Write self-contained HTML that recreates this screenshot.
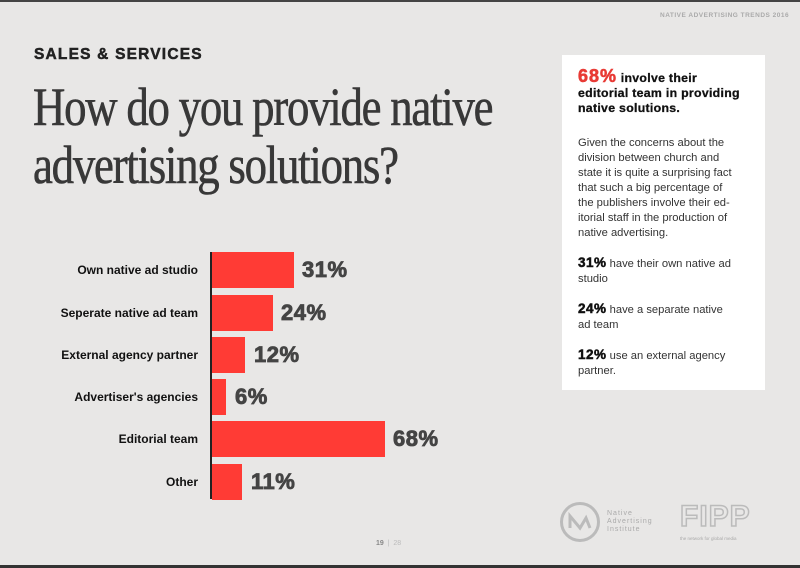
<!DOCTYPE html>
<html><head><meta charset="utf-8"><style>
*{margin:0;padding:0}
body{width:800px;height:568px;background:#e8e7e6;position:relative;overflow:hidden;font-family:"Liberation Sans",sans-serif;color:#333}
.a{position:absolute;white-space:nowrap}
.lab{position:absolute;right:602px;font-size:12px;font-weight:bold;color:#111;text-align:right}
.bar{position:absolute;left:212px;height:36px;background:#ff3b35}
.val{position:absolute;font-size:22px;font-weight:bold;color:#444;letter-spacing:0.5px;-webkit-text-stroke:0.8px #444}
.bx{position:absolute;left:578px;font-size:11.2px;color:#333;line-height:15px}
.bx b{font-size:13.5px;color:#111;letter-spacing:0.5px;-webkit-text-stroke:0.5px #111}
</style></head><body>
<div class="a" style="left:0;top:0;width:800px;height:2px;background:#444"></div>
<div class="a" style="left:0;top:565px;width:800px;height:3px;background:#333"></div>
<div class="a" style="left:660px;top:12px;font-size:6.5px;font-weight:bold;color:#aaa;letter-spacing:0.5px">NATIVE ADVERTISING TRENDS 2016</div>
<div class="a" style="left:34px;top:46px;font-size:15.5px;font-weight:bold;color:#222;letter-spacing:1.2px;-webkit-text-stroke:0.5px #222">SALES &amp; SERVICES</div>
<div class="a" style="left:33px;top:78px;font-family:'Liberation Serif',serif;font-size:54px;line-height:58px;color:#383838;letter-spacing:-1.5px;transform:scaleX(0.83);transform-origin:0 0;-webkit-text-stroke:0.6px #383838">How do you provide native<br>advertising solutions?</div>

<div class="a" style="left:210px;top:252px;width:2px;height:247px;background:#222"></div>
<div class="lab" style="top:263px">Own native ad studio</div>
<div class="lab" style="top:306px">Seperate native ad team</div>
<div class="lab" style="top:348px">External agency partner</div>
<div class="lab" style="top:390px">Advertiser's agencies</div>
<div class="lab" style="top:432px">Editorial team</div>
<div class="lab" style="top:475px">Other</div>

<div class="bar" style="top:252px;width:82px"></div>
<div class="bar" style="top:295px;width:61px"></div>
<div class="bar" style="top:337px;width:33px"></div>
<div class="bar" style="top:379px;width:14px"></div>
<div class="bar" style="top:421px;width:173px"></div>
<div class="bar" style="top:464px;width:30px"></div>
<div class="val" style="left:302px;top:257px">31%</div>
<div class="val" style="left:281px;top:300px">24%</div>
<div class="val" style="left:254px;top:342px">12%</div>
<div class="val" style="left:235px;top:384px">6%</div>
<div class="val" style="left:393px;top:426px">68%</div>
<div class="val" style="left:251px;top:469px">11%</div>

<div class="a" style="left:562px;top:55px;width:203px;height:335px;background:#fff"></div>
<div class="a" style="left:578px;top:69px;font-size:12.3px;font-weight:bold;color:#111;line-height:15px;letter-spacing:0.3px;-webkit-text-stroke:0.3px #111"><span style="font-size:18px;color:#e83a35;letter-spacing:1px;-webkit-text-stroke:0.6px #e83a35">68%</span> involve their<br>editorial team in providing<br>native solutions.</div>
<div class="bx" style="top:136px">Given the concerns about the<br>division between church and<br>state it is quite a surprising fact<br>that such a big percentage of<br>the publishers involve their ed-<br>itorial staff in the production of<br>native advertising.</div>
<div class="bx" style="top:255px"><b>31%</b> have their own native ad<br>studio</div>
<div class="bx" style="top:301px"><b>24%</b> have a separate native<br>ad team</div>
<div class="bx" style="top:347px"><b>12%</b> use an external agency<br>partner.</div>

<div class="a" style="left:376px;top:540px;font-size:7px;font-weight:bold;color:#888">19 <span style="color:#bbb;font-weight:normal">&nbsp;|&nbsp; 28</span></div>
<svg class="a" style="left:558px;top:500px" width="44" height="44"><circle cx="22" cy="22" r="18.5" fill="none" stroke="#bbb" stroke-width="3"/><path d="M12 28 V16 L22 28 L28 18 L32 28" fill="none" stroke="#bbb" stroke-width="3"/></svg>
<div class="a" style="left:607px;top:510px;font-size:7px;line-height:8px;color:#aaa;letter-spacing:1px">Native<br>Advertising<br>Institute</div>
<div class="a" style="left:680px;top:500px;font-size:30px;font-weight:bold;color:transparent;-webkit-text-stroke:1.5px #bbb;letter-spacing:1px">FIPP</div>
<div class="a" style="left:680px;top:536px;font-size:4.5px;color:#aaa">the network for global media</div>
</body></html>
